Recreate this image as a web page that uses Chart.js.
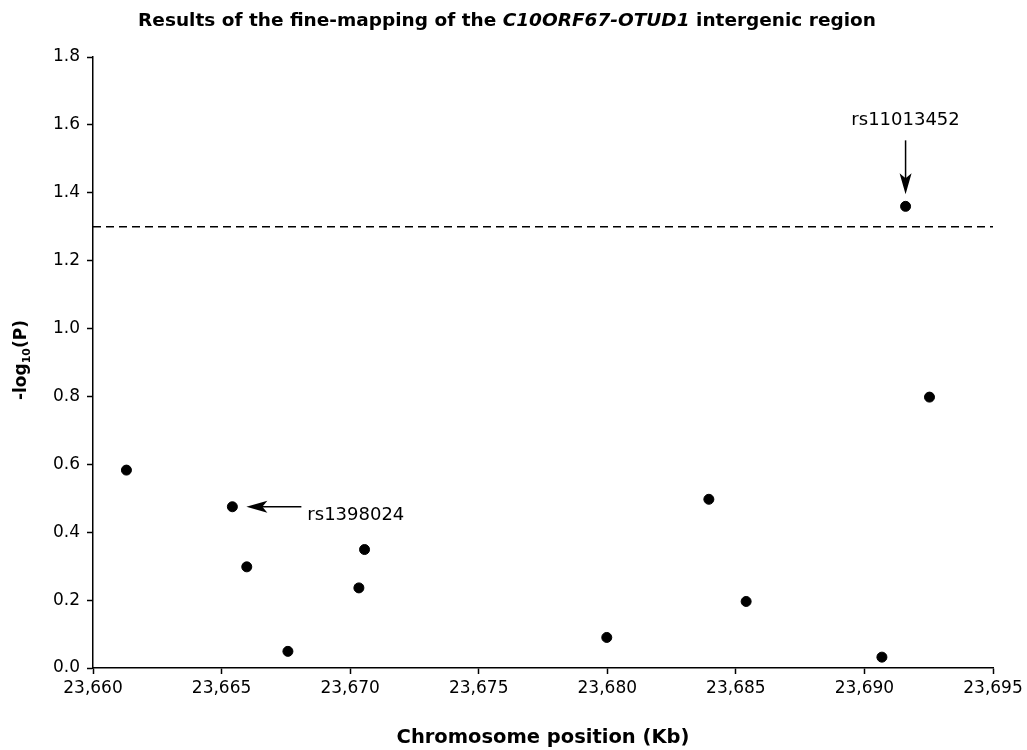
<!DOCTYPE html>
<html lang="en">
<head>
    <meta charset="UTF-8">
    <title>Fine-mapping C10ORF67-OTUD1</title>
    <script src="https://cdn.jsdelivr.net/npm/chart.js"></script>
    <style>
        body {
            margin: 0;
            background-color: #ffffff;
        }
        .chart-box {
            position: relative;
            width: 1027px;
            height: 750px;
        }
    </style>
</head>
<body>
    <div class="chart-box">
        <canvas id="myChart" width="1027" height="750"></canvas>
    </div>

    <script>
// SNP positions (Kb) and -log10(P) values
const positionsKb = [23661.30, 23665.42, 23665.98, 23667.58, 23670.34, 23670.56,
                     23679.98, 23683.95, 23685.40, 23690.68, 23691.60, 23692.53];
const logP = [0.583, 0.475, 0.298, 0.049, 0.236, 0.349,
              0.090, 0.497, 0.196, 0.032, 1.360, 0.798];

// significance threshold (dashed line)
const threshold = 1.3;

// axis ranges
const xMin = 23660, xMax = 23695, xStep = 5;
const yMin = 0, yMax = 1.8, yStep = 0.2;

// labelled SNPs: index into the arrays above
const snpNames = ['rs11013452', 'rs1398024'];
const snpIndex = [10, 1];

const FONT = "'DejaVu Sans', Arial, sans-serif";

function drawArrow(ctx, x1, y1, x2, y2) {
    // line from (x1,y1) to tip (x2,y2)
    const ang = Math.atan2(y2 - y1, x2 - x1);
    const len = 21, half = 6, notch = 5;
    const c = Math.cos(ang), s = Math.sin(ang);
    ctx.beginPath();
    ctx.moveTo(x1, y1);
    ctx.lineTo(x2 - c * 10, y2 - s * 10);
    ctx.stroke();
    ctx.beginPath();
    ctx.moveTo(x2, y2);
    ctx.lineTo(x2 - c * len - s * half, y2 - s * len + c * half);
    ctx.lineTo(x2 - c * (len - notch), y2 - s * (len - notch));
    ctx.lineTo(x2 - c * len + s * half, y2 - s * len - c * half);
    ctx.closePath();
    ctx.fill();
}

const extras = {
    id: 'extras',
    afterDraw(chart) {
        const ctx = chart.ctx;
        const xs = chart.scales.x, ys = chart.scales.y;
        ctx.save();
        ctx.fillStyle = '#000';
        ctx.strokeStyle = '#000';
        ctx.lineWidth = 1.5;

        // title with italic gene names
        const parts = [
            ['bold 18.5px ' + FONT, 'Results of the fine-mapping of the '],
            ['italic bold 18.5px ' + FONT, 'C10ORF67-OTUD1'],
            ['bold 18.5px ' + FONT, ' intergenic region']
        ];
        let total = 0;
        parts.forEach(p => { ctx.font = p[0]; total += ctx.measureText(p[1]).width; });
        let tx = 507 - total / 2;
        ctx.textBaseline = 'middle';
        ctx.textAlign = 'left';
        parts.forEach(p => {
            ctx.font = p[0];
            ctx.fillText(p[1], tx, 21);
            tx += ctx.measureText(p[1]).width;
        });

        // y axis title: -log10(P)
        ctx.save();
        ctx.translate(20, 360);
        ctx.rotate(-Math.PI / 2);
        ctx.font = 'bold 17px ' + FONT;
        const w1 = ctx.measureText('-log').width;
        const w3 = ctx.measureText('(P)').width;
        ctx.font = 'bold 11px ' + FONT;
        const w2 = ctx.measureText('10').width;
        let ox = -(w1 + w2 + w3) / 2;
        ctx.textBaseline = 'alphabetic';
        ctx.font = 'bold 17px ' + FONT;
        ctx.fillText('-log', ox, 6);
        ox += w1;
        ctx.font = 'bold 11px ' + FONT;
        ctx.fillText('10', ox, 10);
        ox += w2;
        ctx.font = 'bold 17px ' + FONT;
        ctx.fillText('(P)', ox, 6);
        ctx.restore();

        // SNP annotations
        ctx.font = '18px ' + FONT;
        let i = snpIndex[0];
        let px = xs.getPixelForValue(positionsKb[i]);
        let py = ys.getPixelForValue(logP[i]);
        drawArrow(ctx, px, py - 66, px, py - 12);
        ctx.textAlign = 'center';
        ctx.textBaseline = 'alphabetic';
        ctx.fillText(snpNames[0], px, py - 81);

        i = snpIndex[1];
        px = xs.getPixelForValue(positionsKb[i]);
        py = ys.getPixelForValue(logP[i]);
        drawArrow(ctx, px + 69, py, px + 14, py);
        ctx.textAlign = 'left';
        ctx.textBaseline = 'middle';
        ctx.fillText(snpNames[1], px + 75, py + 9);

        ctx.restore();
    }
};

const points = positionsKb.map((x, i) => ({ x: x, y: logP[i] }));

var ctx = document.getElementById('myChart').getContext('2d');
var myChart = new Chart(ctx, {
    type: 'scatter',
    data: {
        datasets: [
            {
                label: 'SNPs',
                data: points,
                pointRadius: 5,
                pointHoverRadius: 5,
                backgroundColor: '#000',
                borderColor: '#000'
            },
            {
                label: 'Threshold',
                type: 'line',
                data: [{ x: xMin, y: threshold }, { x: xMax, y: threshold }],
                borderColor: '#000',
                borderWidth: 1.5,
                borderDash: [8, 5],
                pointRadius: 0,
                fill: false
            }
        ]
    },
    options: {
        responsive: false,
        animation: false,
        layout: {
            padding: { top: 57, right: 34, left: 0, bottom: 0 }
        },
        plugins: {
            legend: { display: false },
            tooltip: { enabled: false }
        },
        scales: {
            x: {
                type: 'linear',
                min: xMin,
                max: xMax,
                afterFit: s => { s.height = 82; },
                grid: {
                    drawOnChartArea: false,
                    drawTicks: true,
                    tickLength: 6,
                    tickColor: '#000',
                    tickWidth: 1.5
                },
                border: { display: true, color: '#000', width: 1.5 },
                ticks: {
                    stepSize: xStep,
                    autoSkip: false,
                    maxRotation: 0,
                    padding: 4,
                    color: '#000',
                    font: { family: FONT, size: 17 },
                    callback: v => v.toLocaleString('en-US')
                },
                title: {
                    display: true,
                    text: 'Chromosome position (Kb)',
                    color: '#000',
                    font: { family: FONT, size: 19.5, weight: 'bold' },
                    padding: { top: 0, bottom: 0 }
                }
            },
            y: {
                min: yMin,
                max: yMax,
                afterFit: s => { s.width = 93; },
                grid: {
                    drawOnChartArea: false,
                    drawTicks: true,
                    tickLength: 6,
                    tickColor: '#000',
                    tickWidth: 1.5
                },
                border: { display: true, color: '#000', width: 1.5 },
                ticks: {
                    stepSize: yStep,
                    padding: 7,
                    color: '#000',
                    font: { family: FONT, size: 17 },
                    callback: v => v.toFixed(1)
                }
            }
        }
    },
    plugins: [extras]
});
    </script>
</body>
</html>
